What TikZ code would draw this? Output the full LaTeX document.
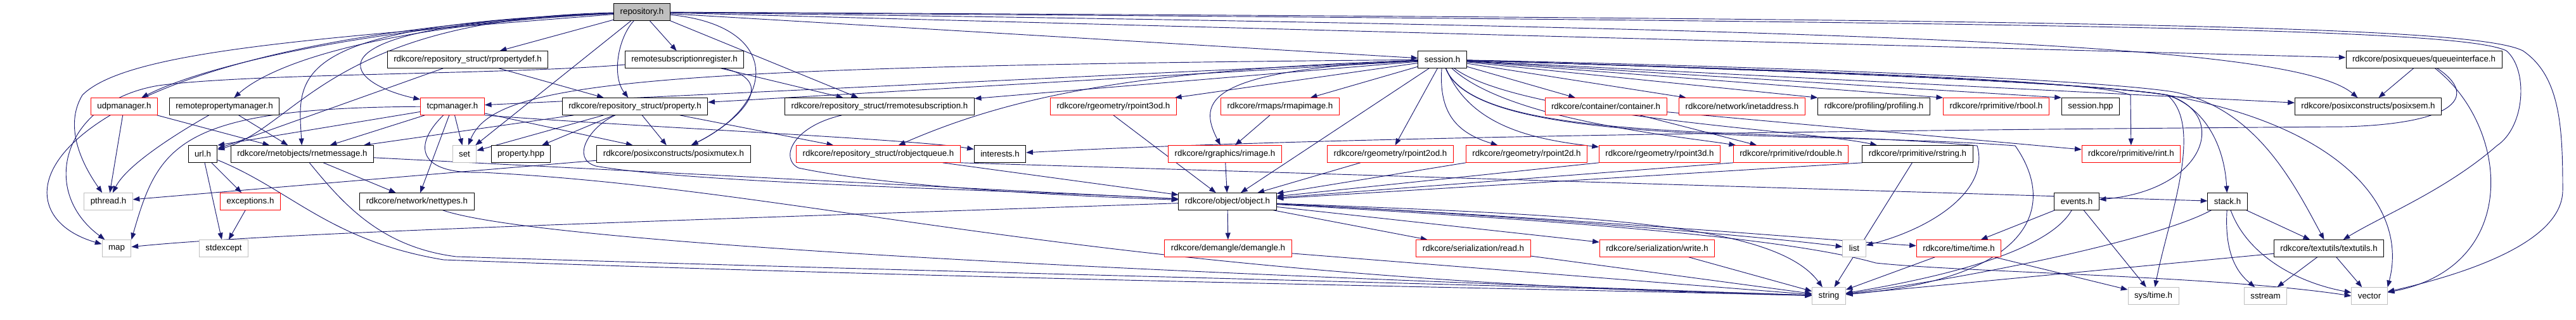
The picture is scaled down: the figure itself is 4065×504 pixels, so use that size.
\documentclass[tikz,border=0pt]{standalone}
\usepackage{fontspec}
\setmainfont{Liberation Sans}
\usetikzlibrary{arrows.meta, backgrounds}
\definecolor{depblue}{HTML}{191970}
\definecolor{hdrred}{HTML}{FF0000}
\definecolor{hdrgray}{HTML}{BFBFBF}

\begin{document}
\begin{tikzpicture}[
  x=0.75pt, y=-0.75pt,
  hdr/.style={draw, rectangle, line width=0.75pt, minimum height=20pt, inner xsep=7.5pt, inner ysep=0pt, fill=white, font=\fontsize{10}{12}\selectfont},
  hdrred/.style={hdr, draw=hdrred},
  hdrsys/.style={hdr, draw=hdrgray},
  hdrtop/.style={hdr, fill=hdrgray},
  dep/.style={->, draw=depblue, line width=0.7pt},
  >={Triangle[length=8pt,width=6pt]}
]
\useasboundingbox (0,0) rectangle (4065,504);

\node[hdrtop] (repo) at (1013,19) {repository.h};

\node[hdr] (rpropdef)  at (738,94)  {rdkcore/repository\_struct/rpropertydef.h};
\node[hdr] (remsubreg) at (1080,94) {remotesubscriptionregister.h};
\node[hdr] (session)   at (2276,94) {session.h};
\node[hdr] (queueif)   at (3825,94) {rdkcore/posixqueues/queueinterface.h};

\node[hdrred] (udpmgr)     at (196,168)  {udpmanager.h};
\node[hdr]    (rempropmgr) at (354,168)  {remotepropertymanager.h};
\node[hdrred] (tcpmgr)     at (714,168)  {tcpmanager.h};
\node[hdr]    (property)   at (1002,168) {rdkcore/repository\_struct/property.h};
\node[hdr]    (rremsub)    at (1388,168) {rdkcore/repository\_struct/rremotesubscription.h};
\node[hdrred] (rpoint3od)  at (1757,168) {rdkcore/rgeometry/rpoint3od.h};
\node[hdrred] (rmapimage)  at (2020,168) {rdkcore/rmaps/rmapimage.h};
\node[hdrred] (container)  at (2534,168) {rdkcore/container/container.h};
\node[hdrred] (inetaddr)   at (2749,168) {rdkcore/network/inetaddress.h};
\node[hdr]    (profiling)  at (2957,168) {rdkcore/profiling/profiling.h};
\node[hdrred] (rbool)      at (3150,168) {rdkcore/rprimitive/rbool.h};
\node[hdr]    (sessionhpp) at (3299,168) {session.hpp};
\node[hdr]    (posixsem)   at (3737,168) {rdkcore/posixconstructs/posixsem.h};

\node[hdr]    (urlh)       at (320,243)  {url.h};
\node[hdr]    (rnetmsg)    at (477,243)  {rdkcore/rnetobjects/rnetmessage.h};
\node[hdrsys] (set)        at (733,243)  {set};
\node[hdr]    (prophpp)    at (822,243)  {property.hpp};
\node[hdr]    (posixmutex) at (1063,243) {rdkcore/posixconstructs/posixmutex.h};
\node[hdrred] (robjq)      at (1386,243) {rdkcore/repository\_struct/robjectqueue.h};
\node[hdr]    (interests)  at (1578,243) {interests.h};
\node[hdrred] (rimage)     at (1933,243) {rdkcore/rgraphics/rimage.h};
\node[hdrred] (rpoint2od)  at (2194,243) {rdkcore/rgeometry/rpoint2od.h};
\node[hdrred] (rpoint2d)   at (2409,243) {rdkcore/rgeometry/rpoint2d.h};
\node[hdrred] (rpoint3d)   at (2619,243) {rdkcore/rgeometry/rpoint3d.h};
\node[hdrred] (rdouble)    at (2826,243) {rdkcore/rprimitive/rdouble.h};
\node[hdr]    (rstring)    at (3026,243) {rdkcore/rprimitive/rstring.h};
\node[hdrred] (rint)       at (3363,243) {rdkcore/rprimitive/rint.h};

\node[hdrsys] (pthread)    at (171,318)  {pthread.h};
\node[hdrred] (exceptions) at (395,318)  {exceptions.h};
\node[hdr]    (nettypes)   at (658,318)  {rdkcore/network/nettypes.h};
\node[hdr]    (object)     at (1937,318) {rdkcore/object/object.h};
\node[hdr]    (events)     at (3277,318) {events.h};
\node[hdr]    (stack)      at (3515,318) {stack.h};

\node[hdrsys] (map)        at (184,392)  {map};
\node[hdrsys] (stdexcept)  at (353,392)  {stdexcept};
\node[hdrred] (demangle)   at (1938,392) {rdkcore/demangle/demangle.h};
\node[hdrred] (read)       at (2325,392) {rdkcore/serialization/read.h};
\node[hdrred] (write)      at (2615,392) {rdkcore/serialization/write.h};
\node[hdrsys] (list)       at (2926,392) {list};
\node[hdrred] (time)       at (3091,392) {rdkcore/time/time.h};
\node[hdr]    (textutils)  at (3675,392) {rdkcore/textutils/textutils.h};

\node[hdrsys] (string)     at (2886,467) {string};
\node[hdrsys] (systime)    at (3398,467) {sys/time.h};
\node[hdrsys] (sstream)    at (3575,467) {sstream};
\node[hdrsys] (vector)     at (3739,467) {vector};

\begin{scope}[on background layer]
\draw[dep] (repo) -- (rpropdef);
\draw[dep] (repo) -- (remsubreg);
\draw[dep] (repo) -- (session);
\draw[dep] (repo) .. controls (975,60) and (965,120) .. (property);
\draw[dep] (repo) -- (set);
\draw[dep] (repo) .. controls (1230,40) and (1230,160) .. (posixmutex);
\draw[dep] (repo.south east) -- (rremsub);
\draw[dep] (repo) .. controls (600,40) and (330,100) .. (udpmgr);
\draw[dep] (repo) .. controls (600,40) and (430,100) .. (rempropmgr);
\draw[dep] (repo) .. controls (460,40) and (540,130) .. (tcpmgr);
\draw[dep] (repo) .. controls (520,30) and (470,200) .. (urlh);
\draw[dep] (repo) .. controls (450,40) and (470,120) .. (rnetmsg);
\draw[dep] (repo) .. controls (500,60) and (200,80) .. (130,150) .. controls (100,200) and (130,260) .. (pthread);
\draw[dep] (repo) .. controls (60,60) and (-30,330) .. (map);
\draw[dep] (repo) -- (queueif);
\draw[dep] (repo) .. controls (3000,45) and (3620,70) .. (posixsem);
\draw[dep] (repo) .. controls (3300,35) and (3880,45) .. (3955,80) .. controls (3990,110) and (3985,200) .. (3940,230) .. controls (3860,300) and (3760,340) .. (textutils);
\draw[dep] (repo) .. controls (3300,30) and (3900,40) .. (3981,80) .. controls (4040,120) and (4044,200) .. (4044,300) .. controls (4044,380) and (3900,430) .. (vector);

\draw[dep] (session) -- (tcpmgr);
\draw[dep] (session) -- (property);
\draw[dep] (session) -- (rremsub);
\draw[dep] (session) .. controls (1800,110) and (1600,150) .. (robjq);
\draw[dep] (session) .. controls (1000,105) and (780,130) .. (set);
\draw[dep] (session) -- (rpoint3od);
\draw[dep] (session) -- (rmapimage);
\draw[dep] (session) .. controls (1900,110) and (1890,160) .. (rimage);
\draw[dep] (session) -- (object);
\draw[dep] (session) -- (rpoint2od);
\draw[dep] (session) .. controls (2270,180) and (2300,210) .. (rpoint2d);
\draw[dep] (session) .. controls (2320,200) and (2420,220) .. (rpoint3d);
\draw[dep] (session) .. controls (2380,190) and (2650,215) .. (rdouble);
\draw[dep] (session) .. controls (2400,185) and (2850,205) .. (rstring);
\draw[dep] (session) -- (container);
\draw[dep] (session) -- (inetaddr);
\draw[dep] (session) -- (profiling.north west);
\draw[dep] (session) -- (rbool.north west);
\draw[dep] (session) -- (sessionhpp.north west);
\draw[dep] (session) .. controls (2800,110) and (3300,125) .. (3362,150) -- (rint);
\draw[dep] (session) -- (posixsem);
\draw[dep] (session) .. controls (2800,110) and (3300,130) .. (3420,150) .. controls (3480,170) and (3510,230) .. (stack);
\draw[dep] (session) .. controls (2800,105) and (3300,125) .. (3430,145) .. controls (3560,170) and (3620,290) .. (textutils);
\draw[dep] (session) .. controls (2800,110) and (3300,130) .. (3420,150) .. controls (3520,180) and (3480,300) .. (events);
\draw[dep] (session) .. controls (2800,110) and (3300,130) .. (3420,150) .. controls (3480,200) and (3420,350) .. (systime);
\draw[dep] (session) .. controls (2800,110) and (3300,130) .. (3420,150) .. controls (3700,200) and (3800,330) .. (vector.north east);
\draw[dep] (session) .. controls (2330,230) and (2800,200) .. (3120,230) .. controls (3140,300) and (3050,360) .. (list);
\draw[dep] (session) .. controls (2330,235) and (2850,205) .. (3180,230) .. controls (3250,330) and (3200,440) .. (string);

\draw[dep] (remsubreg) .. controls (1240,130) and (1150,200) .. (posixmutex);
\draw[dep] (remsubreg) -- (rremsub);
\draw[dep] (remsubreg) .. controls (800,118) and (400,115) .. (250,135) .. controls (100,160) and (60,300) .. (map);

\draw[dep] (rpropdef) -- (property);
\draw[dep] (rpropdef) -- (urlh);

\draw[dep] (udpmgr) -- (pthread);
\draw[dep] (udpmgr) -- (rnetmsg);
\draw[dep] (rempropmgr) .. controls (280,210) and (200,260) .. (pthread);
\draw[dep] (rempropmgr) -- (rnetmsg);

\draw[dep] (tcpmgr) -- (set);
\draw[dep] (tcpmgr) -- (posixmutex);
\draw[dep] (tcpmgr) -- (nettypes);
\draw[dep] (tcpmgr) -- (rnetmsg);
\draw[dep] (tcpmgr) -- (urlh.north east);
\draw[dep] (tcpmgr) .. controls (280,170) and (250,230) .. (map.north east);
\draw[dep] (tcpmgr.south east) .. controls (1000,200) and (1450,220) .. (interests);
\draw[dep] (tcpmgr) .. controls (650,230) and (660,275) .. (760,272) .. controls (1300,300) and (1700,440) .. (string);

\draw[dep] (property) -- (set);
\draw[dep] (property) -- (prophpp);
\draw[dep] (property) -- (posixmutex);
\draw[dep] (property) -- (robjq);
\draw[dep] (property) -- (rnetmsg);
\draw[dep] (property) .. controls (930,200) and (900,250) .. (940,262) .. controls (1100,290) and (1600,300) .. (object);

\draw[dep] (rremsub) .. controls (1250,200) and (1230,250) .. (1260,265) .. controls (1400,295) and (1700,310) .. (object);
\draw[dep] (robjq) -- (object);
\draw[dep] (robjq.south east) -- (stack);

\draw[dep] (urlh) -- (exceptions);
\draw[dep] (urlh) -- (stdexcept);
\draw[dep] (urlh) .. controls (460,300) and (520,380) .. (700,410) .. controls (1500,440) and (2400,455) .. (string);
\draw[dep] (exceptions) -- (stdexcept);
\draw[dep] (rnetmsg) -- (nettypes);
\draw[dep] (rnetmsg) -- (object);
\draw[dep] (rnetmsg) .. controls (540,320) and (600,390) .. (720,405) .. controls (1500,430) and (2400,450) .. (string);
\draw[dep] (nettypes) .. controls (900,400) and (2400,450) .. (string);
\draw[dep] (posixmutex) -- (pthread);

\draw[dep] (rpoint3od.south) -- (object);
\draw[dep] (rmapimage) -- (rimage);
\draw[dep] (rimage) -- (object);
\draw[dep] (rpoint2od) -- (object);
\draw[dep] (rpoint2d.south west) -- (object);
\draw[dep] (rpoint3d.south west) -- (object);
\draw[dep] (rdouble.south west) -- (object);
\draw[dep] (rstring.south west) -- (object);
\draw[dep] (rstring) -- (string);
\draw[dep] (container) -- (rdouble);
\draw[dep] (container) -- (rint);

\draw[dep] (object) -- (demangle);
\draw[dep] (object) -- (read);
\draw[dep] (object) -- (write);
\draw[dep] (object) .. controls (2400,340) and (2800,375) .. (list);
\draw[dep] (object) .. controls (2500,345) and (2900,380) .. (time);
\draw[dep] (object) .. controls (2500,340) and (2800,350) .. (string);
\draw[dep] (object) .. controls (2400,345) and (2800,370) .. (2960,415) .. controls (3100,430) and (3500,435) .. (vector.west);
\draw[dep] (object) .. controls (1000,350) and (420,368) .. (map);

\draw[dep] (demangle) -- (string);
\draw[dep] (read) -- (string);
\draw[dep] (write) -- (string);
\draw[dep] (time) -- (string);
\draw[dep] (time) -- (systime);
\draw[dep] (events) -- (time);
\draw[dep] (events) .. controls (3230,400) and (3050,440) .. (string);
\draw[dep] (events) -- (systime);
\draw[dep] (stack) -- (textutils);
\draw[dep] (stack) .. controls (3510,400) and (3530,430) .. (sstream);
\draw[dep] (stack) .. controls (3545,400) and (3620,445) .. (vector);
\draw[dep] (stack) .. controls (3400,380) and (3100,440) .. (string);
\draw[dep] (textutils) -- (string);
\draw[dep] (textutils) -- (sstream);
\draw[dep] (textutils) -- (vector);
\draw[dep] (queueif) -- (posixsem);
\draw[dep] (queueif) .. controls (3960,200) and (3980,420) .. (vector);
\draw[dep] (queueif) .. controls (3910,150) and (3880,195) .. (3700,200) .. controls (3000,205) and (2100,215) .. (interests);
\end{scope}

\end{tikzpicture}
\end{document}
